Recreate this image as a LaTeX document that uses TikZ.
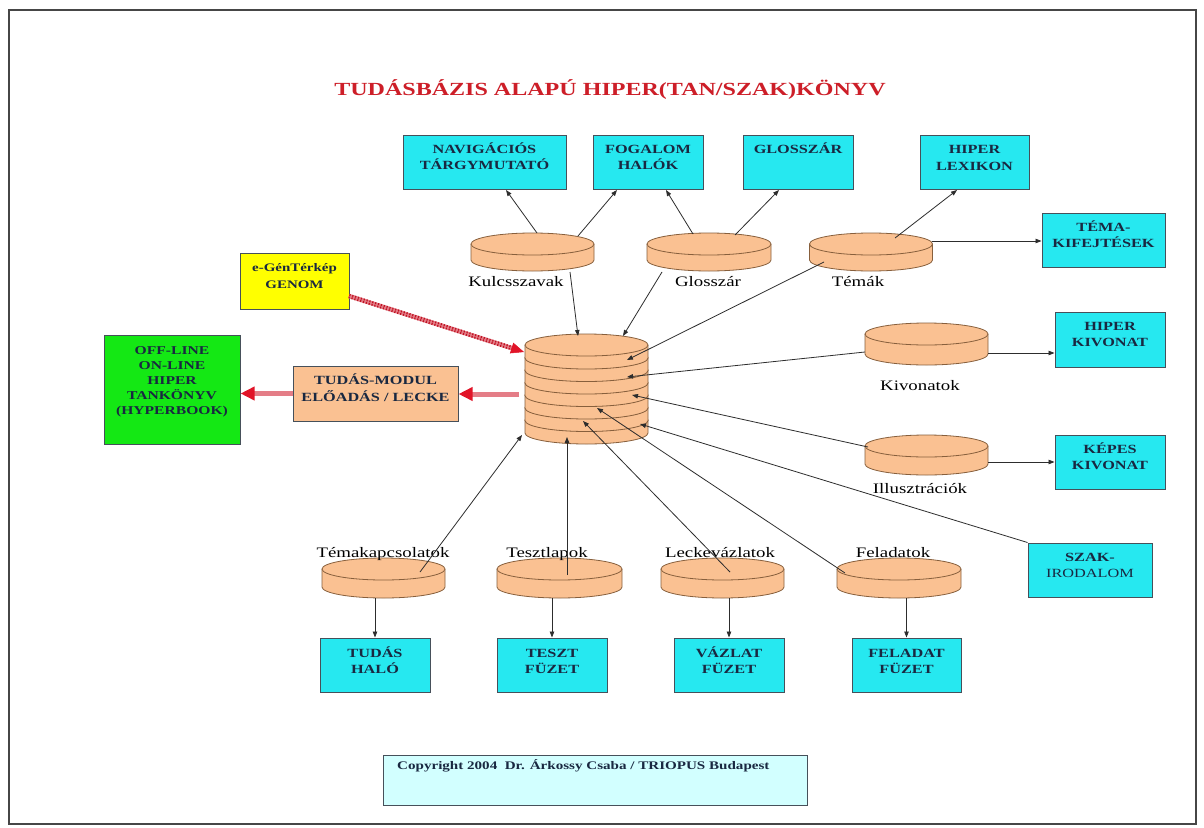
\documentclass[tikz,border=0pt]{standalone}
\usepackage{fontspec}
\setmainfont{Liberation Serif}[FakeStretch=1.3]
\usetikzlibrary{arrows.meta,calc}

\definecolor{boxcyan}{RGB}{38,232,240}
\definecolor{boxline}{RGB}{70,80,90}
\definecolor{boxtext}{RGB}{25,40,65}
\definecolor{peach}{RGB}{250,193,146}
\definecolor{peachline}{RGB}{135,95,60}
\definecolor{titlered}{RGB}{205,30,40}
\definecolor{genyellow}{RGB}{255,255,0}
\definecolor{bookgreen}{RGB}{20,232,20}
\definecolor{copycyan}{RGB}{210,255,255}
\definecolor{shaftred}{RGB}{228,125,135}
\definecolor{tipred}{RGB}{225,20,40}
\definecolor{connc}{RGB}{45,45,45}
\definecolor{framec}{RGB}{70,70,70}

% one database disk: centre x, top-ellipse centre y, x radius, body height
\newcommand{\dbdisk}[4]{%
  \fill[peach] (#1-#3,#2) -- (#1-#3,#2+#4)
    arc[start angle=180,end angle=0,x radius=#3,y radius=11] -- (#1+#3,#2) -- cycle;
  \draw[peachline,line width=0.8pt] (#1-#3,#2) -- (#1-#3,#2+#4)
    arc[start angle=180,end angle=0,x radius=#3,y radius=11] -- (#1+#3,#2);
  \filldraw[fill=peach,draw=peachline,line width=0.8pt] (#1,#2) ellipse[x radius=#3,y radius=11];
}

\tikzset{
  abox/.style={draw=boxline, line width=1pt, inner sep=0pt, minimum height=54pt},
  cbox/.style={abox, fill=boxcyan},
  btext/.style={anchor=north, inner sep=0pt, align=center, text=boxtext,
    font=\bfseries\fontsize{12.5}{16.5}\selectfont},
  dlabel/.style={anchor=base, inner sep=0pt, font=\fontsize{14.5}{16}\selectfont},
  conn/.style={draw=connc, line width=0.8pt, -{Triangle[length=6pt,width=4.5pt]}},
  bigred/.style={draw=shaftred, line width=5pt,
    -{Triangle[length=14pt,width=13pt,color=tipred]}},
  dnode/.style={inner sep=0pt, draw=none}
}

\begin{document}
\begin{tikzpicture}[x=1pt,y=-1pt]
\useasboundingbox (0,0) rectangle (1204,827);
\fill[white] (0,0) rectangle (1204,827);
\draw[framec,line width=2pt] (9,10) rectangle (1196,824);

% title
\node[anchor=base, inner sep=0pt, text=titlered, font=\bfseries\fontsize{18.5}{20}\selectfont]
  (title) at (610,95) {TUDÁSBÁZIS ALAPÚ HIPER(TAN/SZAK)KÖNYV};

% ---- output boxes, top row
\node[cbox, minimum width=163pt] (nav) at (484.5,162) {};
\node[btext] (navT) at ($(nav.north)+(0,8)$) {\vphantom{Á}NAVIGÁCIÓS\\TÁRGYMUTATÓ};
\node[cbox, minimum width=110pt] (fog) at (648,162) {};
\node[btext] (fogT) at ($(fog.north)+(0,8)$) {\vphantom{Á}FOGALOM\\HALÓK};
\node[cbox, minimum width=110pt] (glo) at (798,162) {};
\node[btext] (gloT) at ($(glo.north)+(0,8)$) {\vphantom{Á}GLOSSZÁR};
\node[cbox, minimum width=109pt] (lex) at (974.5,162.5) {};
\node[btext] (lexT) at ($(lex.north)+(0,8)$) {\vphantom{Á}HIPER\\LEXIKON};
\node[cbox, minimum width=123pt] (tema) at (1103.5,240) {};
\node[btext] (temaT) at ($(tema.north)+(0,8)$) {\vphantom{Á}TÉMA-\\KIFEJTÉSEK};

% ---- right column
\node[cbox, minimum width=110pt, minimum height=55pt] (hkiv) at (1110,339.5) {};
\node[btext] (hkivT) at ($(hkiv.north)+(0,8)$) {\vphantom{Á}HIPER\\KIVONAT};
\node[cbox, minimum width=110pt] (kkiv) at (1110,462) {};
\node[btext] (kkivT) at ($(kkiv.north)+(0,8)$) {\vphantom{Á}KÉPES\\KIVONAT};
\node[cbox, minimum width=124pt] (szak) at (1090,570) {};
\node[btext] (szakT) at ($(szak.north)+(0,8)$) {\vphantom{Á}SZAK-\\{\mdseries IRODALOM}};

% ---- bottom row
\node[cbox, minimum width=110pt] (halo) at (375,665) {};
\node[btext] (haloT) at ($(halo.north)+(0,9)$) {\vphantom{Á}TUDÁS\\HALÓ};
\node[cbox, minimum width=110pt] (tfuz) at (552,665) {};
\node[btext] (tfuzT) at ($(tfuz.north)+(0,9)$) {\vphantom{Á}TESZT\\FÜZET};
\node[cbox, minimum width=110pt] (vfuz) at (729,665) {};
\node[btext] (vfuzT) at ($(vfuz.north)+(0,9)$) {\vphantom{Á}VÁZLAT\\FÜZET};
\node[cbox, minimum width=109pt] (ffuz) at (906.5,665) {};
\node[btext] (ffuzT) at ($(ffuz.north)+(0,9)$) {\vphantom{Á}FELADAT\\FÜZET};

% ---- left side
\node[abox, fill=genyellow, minimum width=109pt, minimum height=56pt] (genom) at (294.5,281) {};
\node[btext, font=\bfseries\fontsize{11.5}{16.5}\selectfont] (genomT) at ($(genom.north)+(0,9)$)
  {\vphantom{Á}e-GénTérkép\\GENOM};
\node[abox, fill=peach, minimum width=165pt, minimum height=55pt] (modul) at (375.5,393.5) {};
\node[btext] (modulT) at ($(modul.north)+(0,8.5)$) {\vphantom{Á}TUDÁS-MODUL\\ELŐADÁS / LECKE};
\node[abox, fill=bookgreen, minimum width=136pt, minimum height=109pt] (book) at (172,389.5) {};
\node[btext, font=\bfseries\fontsize{12}{15}\selectfont] (bookT) at ($(book.north)+(0,9.5)$)
  {\vphantom{Á}OFF-LINE\\ON-LINE\\HIPER\\TANKÖNYV\\(HYPERBOOK)};

% ---- copyright
\node[abox, fill=copycyan, minimum width=424pt, minimum height=50pt] (copy) at (595,780) {};
\node[anchor=base west, inner sep=0pt, text=boxtext, font=\bfseries\fontsize{11.6}{13}\selectfont]
  (copyT) at (397,769) {Copyright 2004~ Dr. Árkossy Csaba / TRIOPUS Budapest};

% ---- disks
\dbdisk{532.5}{244}{61.5}{16}
\node[dnode, minimum width=123pt, minimum height=38pt] (kulcs) at (532.5,252) {};
\node[dlabel] (kulcsL) at (516,286) {Kulcsszavak};
\dbdisk{709}{244}{62}{16}
\node[dnode, minimum width=124pt, minimum height=38pt] (gloss) at (709,252) {};
\node[dlabel] (glossL) at (708,286) {Glosszár};
\dbdisk{871}{244}{61.5}{16}
\node[dnode, minimum width=123pt, minimum height=38pt] (temak) at (871,252) {};
\node[dlabel] (temakL) at (858,286) {Témák};
\dbdisk{926.5}{334}{61.5}{20}
\node[dnode, minimum width=123pt, minimum height=42pt] (kivon) at (926.5,344) {};
\node[dlabel] (kivonL) at (920,390) {Kivonatok};
\dbdisk{926.5}{446}{61.5}{18}
\node[dnode, minimum width=123pt, minimum height=40pt] (illus) at (926.5,455) {};
\node[dlabel] (illusL) at (920,493) {Illusztrációk};

\dbdisk{383.5}{569}{61.5}{18}
\node[dnode, minimum width=123pt, minimum height=40pt] (tkap) at (383.5,578) {};
\node[dlabel] (tkapL) at (383,557) {Témakapcsolatok};
\dbdisk{559.5}{569}{62.5}{18}
\node[dnode, minimum width=125pt, minimum height=40pt] (teszt) at (559.5,578) {};
\node[dlabel] (tesztL) at (547,557) {Tesztlapok};
\dbdisk{722.5}{569}{61.5}{18}
\node[dnode, minimum width=123pt, minimum height=40pt] (lecke) at (722.5,578) {};
\node[dlabel] (leckeL) at (720,557) {Leckevázlatok};
\dbdisk{899}{569}{62}{18}
\node[dnode, minimum width=124pt, minimum height=40pt] (felad) at (899,578) {};
\node[dlabel] (feladL) at (893,557) {Feladatok};

% ---- central stack of disks
\foreach \i in {6,5,...,0} {\dbdisk{586.5}{345+12.5*\i}{61.5}{13}}
\node[dnode, minimum width=123pt, minimum height=108pt] (stack) at (586.5,389) {};

% ---- attachment points
\coordinate (kulcsA) at (537,233);  \coordinate (navA) at (506,190);
\coordinate (kulcsB) at (578,236);  \coordinate (fogA) at (617,190);
\coordinate (glossA) at (693,234);  \coordinate (fogB) at (666,190);
\coordinate (glossB) at (735,235);  \coordinate (gloA) at (779,190);
\coordinate (temakA) at (895,238);  \coordinate (lexA) at (957,190);
\coordinate (temakB) at (932,241);
\coordinate (kulcsC) at (570,272);  \coordinate (st1) at (578,336);
\coordinate (glossC) at (662,272);  \coordinate (st2) at (623,336);
\coordinate (temakC) at (824,262);  \coordinate (st3) at (627,360);
\coordinate (kivonA) at (865,352);  \coordinate (st4) at (627,377);
\coordinate (illusA) at (868,447);  \coordinate (st5) at (632,395);
\coordinate (st6) at (640,424);
\coordinate (feladA) at (845,573);  \coordinate (st7) at (597,408);
\coordinate (leckeA) at (730,572);  \coordinate (st8) at (583,421);
\coordinate (tesztA) at (567,575);  \coordinate (st9) at (567,437);
\coordinate (tkapA) at (420,572);   \coordinate (st10) at (522,435);
\coordinate (kivonB) at (988,353);
\coordinate (illusB) at (988,462);
\coordinate (redA) at (519,394);
\coordinate (genA) at (349,296);    \coordinate (genB) at (524,352);

% ---- connectors
\draw[conn] (kulcsA) -- (navA);
\draw[conn] (kulcsB) -- (fogA);
\draw[conn] (glossA) -- (fogB);
\draw[conn] (glossB) -- (gloA);
\draw[conn] (temakA) -- (lexA);
\draw[conn] (temakB) -- (temakB -| tema.west);
\draw[conn] (kulcsC) -- (st1);
\draw[conn] (glossC) -- (st2);
\draw[conn] (temakC) -- (st3);
\draw[conn] (kivonA) -- (st4);
\draw[conn] (illusA) -- (st5);
\draw[conn] (szak.north west) -- (st6);
\draw[conn] (feladA) -- (st7);
\draw[conn] (leckeA) -- (st8);
\draw[conn] (tesztA) -- (st9);
\draw[conn] (tkapA) -- (st10);
\draw[conn] (kivonB) -- (kivonB -| hkiv.west);
\draw[conn] (illusB) -- (illusB -| kkiv.west);
\draw[conn] (halo.north |- tkap.south) -- (halo.north);
\draw[conn] (tfuz.north |- teszt.south) -- (tfuz.north);
\draw[conn] (vfuz.north |- lecke.south) -- (vfuz.north);
\draw[conn] (ffuz.north |- felad.south) -- (ffuz.north);

% ---- thick red arrows
\draw[bigred] (redA) -- (redA -| modul.east);
\draw[bigred] (modul.west) -- (modul.west -| book.east);
\draw[shaftred, line width=4.5pt, shorten >=11pt] (genA) -- (genB);
\draw[tipred!85!black, line width=4.5pt, dash pattern=on 1.2pt off 1.8pt, shorten >=11pt] (genA) -- (genB);
\draw[shaftred, line width=0.5pt, -{Triangle[length=13pt,width=11pt,color=tipred]}] (genA) -- (genB);
\end{tikzpicture}
\end{document}
